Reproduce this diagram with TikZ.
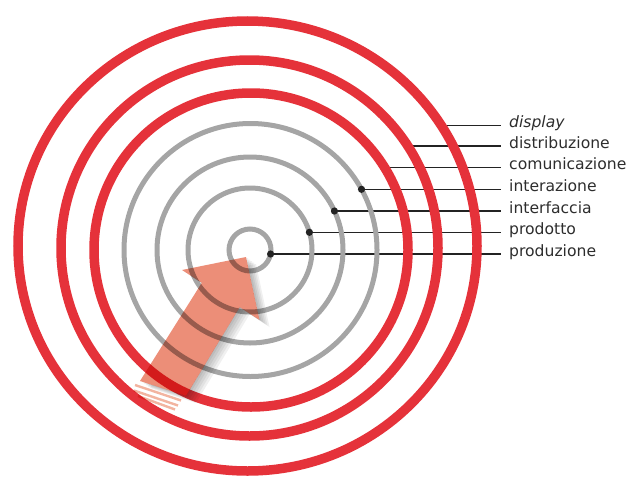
\documentclass[tikz,border=0pt]{standalone}
\usepackage{fontspec}
\setmainfont{DejaVu Sans}
\definecolor{ringred}{RGB}{229,50,58}
\definecolor{ringgray}{RGB}{165,165,165}
\definecolor{arrowfill}{RGB}{236,142,120}
\definecolor{stripefill}{RGB}{242,180,160}
\definecolor{leadercol}{RGB}{35,35,35}
\definecolor{textcol}{RGB}{45,45,45}
\begin{document}
\begin{tikzpicture}[x=1pt,y=-1pt,
  redring/.style={draw=ringred, line width=9.5pt},
  grayring/.style={draw=ringgray, line width=5pt},
  leader/.style={draw=leadercol, line width=1.3pt},
  pin/.style={fill=leadercol},
  lbl/.style={anchor=base west, inner xsep=8pt, inner ysep=0pt, text=textcol,
              font=\fontsize{15.6}{17}\selectfont},
  arrowbody/.style={fill=arrowfill, blend mode=multiply},
  arrowshadow/.style={fill=black, fill opacity=0.06},
  stripe/.style={draw=stripefill, line width=2.4pt, blend mode=multiply},
]
\useasboundingbox (0,0) rectangle (628,479);

% label nodes
\node[lbl] (l1) at (501,127.3) {\textit{display}};
\node[lbl] (l2) at (501,148.0) {distribuzione};
\node[lbl] (l3) at (501,169.7) {comunicazione};
\node[lbl] (l4) at (501,191.3) {interazione};
\node[lbl] (l5) at (501,213.0) {interfaccia};
\node[lbl] (l6) at (501,234.3) {prodotto};
\node[lbl] (l7) at (501,256.0) {produzione};

% points on the rings
\coordinate (p1) at (441.3,125.3);
\coordinate (p2) at (407.4,146.0);
\coordinate (p3) at (384.7,167.7);
\coordinate (p4) at (361.5,189.3);
\coordinate (p5) at (334.4,211.0);
\coordinate (p6) at (309.4,232.3);
\coordinate (p7) at (270.6,254.0);

% leader lines (under the rings)
\draw[leader] (p1) -- (p1 -| l1.west);
\draw[leader] (p2) -- (p2 -| l2.west);
\draw[leader] (p3) -- (p3 -| l3.west);
\draw[leader] (p4) -- (p4 -| l4.west);
\draw[leader] (p5) -- (p5 -| l5.west);
\draw[leader] (p6) -- (p6 -| l6.west);
\draw[leader] (p7) -- (p7 -| l7.west);
\fill[pin] (p1) circle [radius=3pt];

% rings
\draw[redring] (247.5,246) ellipse [x radius=229.5, y radius=225];
\draw[redring] (249.5,248) ellipse [x radius=188.5, y radius=188];
\draw[redring] (251,250) circle [radius=157];
\draw[grayring] (250.5,250) circle [radius=126.5];
\draw[grayring] (250,250) circle [radius=93];
\draw[grayring] (250,250) circle [radius=62];
\draw[grayring] (250,250) circle [radius=21];

% dots on the gray rings
\fill[pin] (p4) circle [radius=3.6pt];
\fill[pin] (p5) circle [radius=3.6pt];
\fill[pin] (p6) circle [radius=3.6pt];
\fill[pin] (p7) circle [radius=3.6pt];

% arrow shadow, kept outside the arrow itself
\begin{scope}[even odd rule]
  \clip (0,0) rectangle (628,479)
    (246,257) -- (259.5,320) -- (239.7,307.2) -- (186,396)
    -- (140,381) -- (201.8,282.8) -- (182,270) -- cycle;
  \foreach \dx/\dy in {2/1,4/2.5,6/4,8/5.5,10/7}{
    \fill[arrowshadow] ([shift={(\dx,\dy)}]246,257) -- ([shift={(\dx,\dy)}]259.5,320)
      -- ([shift={(\dx,\dy)}]239.7,307.2) -- ([shift={(\dx,\dy)}]186,396)
      -- ([shift={(\dx,\dy)}]140,381) -- ([shift={(\dx,\dy)}]201.8,282.8)
      -- ([shift={(\dx,\dy)}]182,270) -- cycle;
  }
\end{scope}
% arrow
\fill[arrowbody] (246,257) -- (259.5,320) -- (239.7,307.2) -- (186,396)
  -- (140,381) -- (201.8,282.8) -- (182,270) -- cycle;
% tail stripes
\draw[stripe] (135,385) -- (181,400.5);
\draw[stripe] (134,390.5) -- (178,405.5);
\draw[stripe] (138,396) -- (175,409.5);
\end{tikzpicture}
\end{document}
